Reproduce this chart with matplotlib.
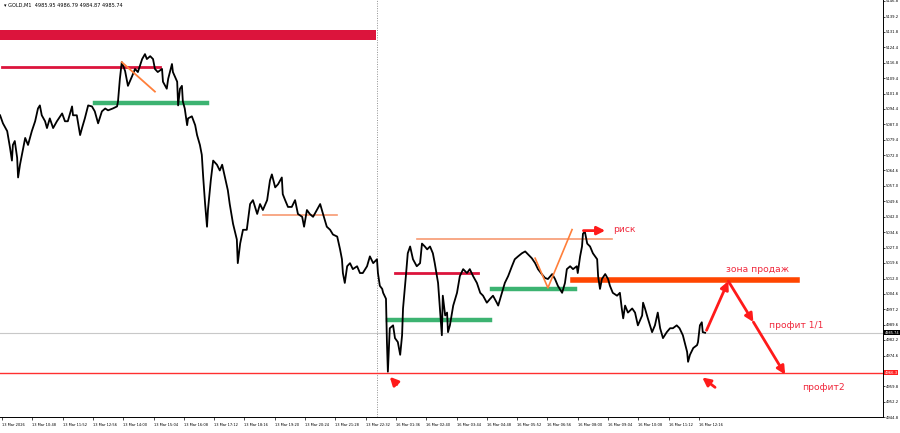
import matplotlib.pyplot as plt

# close prices (bar index = minutes from first bar)
bar_idx = [
    -4, 2, 11, 17, 21, 23, 27, 32, 34, 38, 42, 49, 55, 63, 70, 76, 80, 84, 91, 95,
    101, 108, 116, 127, 133, 139, 148, 150, 158, 165, 169, 175, 182, 190, 196, 203,
    211, 218, 224, 234, 243, 245, 249, 253, 260, 266, 275, 281, 287, 296, 302,
    306, 313, 319, 323, 329, 338, 340, 348, 351, 359, 361, 370, 372, 376, 380, 382,
    386, 391, 393, 401, 408, 412, 418, 422, 425, 429, 433, 435, 441, 446, 454, 460,
    465, 471, 477, 481, 488, 496, 498, 503, 509, 517, 524, 530, 539, 545, 551, 560,
    566, 570, 577, 583, 591, 593, 598, 604, 612, 619, 625, 634, 638, 644, 650, 657,
    665, 672, 678, 686, 693, 699, 708, 714, 718, 720, 724, 729, 735, 741, 750, 756,
    762, 771, 777, 784, 792, 794, 798, 803, 805, 811, 813, 815, 819, 826, 830, 836,
    841, 845, 847, 853, 857, 862, 868, 876, 883, 887, 893,
    898, 904, 910, 914, 921, 925, 929, 931, 936, 940, 942, 946, 953, 961, 967, 974,
    982, 988, 995, 1003, 1010, 1016, 1024, 1031, 1037, 1045, 1048, 1056, 1062, 1069,
    1077, 1083, 1090, 1098, 1105, 1111, 1119, 1126, 1132, 1140, 1147, 1153, 1162,
    1168, 1174, 1183, 1189, 1193, 1200, 1206, 1214, 1216, 1221, 1225, 1227, 1231,
    1236, 1242, 1248, 1257, 1259, 1263, 1267, 1274, 1280, 1284, 1290, 1299, 1305,
    1309, 1312, 1316, 1322, 1331, 1337, 1343, 1352, 1354, 1358, 1364, 1373, 1379,
    1385, 1390, 1396, 1404, 1411, 1417, 1425, 1431, 1438, 1447, 1449, 1453, 1460,
    1468, 1470, 1474, 1478, 1480, 1485,
]
price = [
    5091.3, 5087.4, 5083.6, 5075.5, 5069.3, 5076.9, 5078.8, 5070.7, 5061.1, 5067.3,
    5072.1, 5080.3, 5076.9, 5083.6, 5088.4, 5094.6, 5096.1, 5091.3, 5088.4, 5085.1,
    5089.8, 5085.1, 5088.4, 5092.2, 5088.4, 5088.4, 5095.6, 5091.3, 5091.3, 5081.7,
    5085.1, 5089.8, 5096.1, 5095.6, 5093.2, 5087.4, 5093.2, 5094.6, 5093.7, 5094.6,
    5095.6, 5098.0, 5109.0, 5117.1, 5112.8, 5105.6, 5110.4, 5113.8, 5112.3, 5118.6,
    5121.0,
    5118.6, 5120.0, 5118.6, 5113.8, 5112.3, 5113.8, 5107.6, 5104.2, 5109.0, 5116.2,
    5112.3, 5107.6, 5096.1, 5104.2, 5105.6, 5098.0, 5094.6, 5086.5, 5089.8, 5090.8,
    5086.5, 5081.7, 5076.9, 5072.1, 5061.1, 5048.2, 5037.2, 5045.3, 5059.7, 5069.3,
    5067.3, 5064.5, 5067.3, 5061.1, 5054.9, 5048.2, 5038.6, 5031.0, 5019.5, 5029.0,
    5035.7, 5035.7, 5048.2, 5050.1, 5043.4, 5048.2, 5045.3, 5050.1, 5059.7, 5062.6,
    5056.3, 5057.8, 5061.1, 5053.0, 5050.1, 5046.8, 5046.8, 5050.1, 5043.4, 5042.0,
    5037.2, 5045.3, 5043.4, 5042.0, 5045.3, 5048.2, 5043.4, 5037.2, 5035.7, 5033.4,
    5032.4, 5026.2, 5021.4, 5014.7, 5009.9, 5018.0, 5019.5, 5016.6, 5018.0, 5014.7,
    5014.7, 5018.0, 5022.8, 5019.5, 5021.4, 5014.7, 5008.5, 5007.0, 5005.1, 5002.2,
    4981.2, 4966.8, 4987.9, 4989.3, 4983.1, 4981.2, 4975.0, 4984.5, 4997.5, 5013.2,
    5024.3, 5027.6, 5021.4, 5018.0, 5019.5, 5029.0, 5027.6,
    5026.2, 5027.6, 5024.3, 5019.5, 5009.9, 4997.5, 4984.5, 5003.7, 4994.1, 4995.5,
    4986.0, 4989.3, 4998.9, 5005.1, 5013.2, 5016.6, 5014.7, 5016.6, 5013.2, 5009.9,
    5005.1, 5003.7, 5000.3, 5002.2, 5003.7, 5000.3, 4998.9, 5005.1, 5009.9, 5013.2,
    5018.0, 5021.4, 5022.8, 5024.3, 5025.2, 5023.8, 5021.9, 5019.5, 5016.6, 5014.2,
    5012.3, 5011.8, 5014.2, 5011.8, 5008.5, 5005.1, 5009.9, 5016.6, 5018.0, 5016.6,
    5018.0, 5014.7, 5022.8, 5027.6, 5033.8, 5034.8, 5029.0, 5027.6, 5024.3, 5021.4,
    5013.2, 5007.0, 5011.8, 5014.2, 5011.8, 5008.5, 5005.1, 5003.7, 5005.1, 4997.5,
    4992.7, 4998.9, 4995.5, 4997.5, 4995.5, 4989.3, 4994.1, 5000.3, 4997.5, 4992.7,
    4986.0, 4989.3, 4995.5, 4987.9, 4983.1, 4986.0, 4987.9, 4987.9, 4989.3, 4987.9,
    4984.5, 4976.4, 4971.6, 4975.0, 4978.3, 4979.7, 4981.2, 4989.3, 4990.8, 4986.0,
    4985.7,
]

time_labels = [
    '13 Mar 2026', '13 Mar 10:48', '13 Mar 11:52', '13 Mar 12:56', '13 Mar 14:00',
    '13 Mar 15:04', '13 Mar 16:08', '13 Mar 17:12', '13 Mar 18:16', '13 Mar 19:20',
    '13 Mar 20:24', '13 Mar 21:28', '13 Mar 22:32', '16 Mar 01:36', '16 Mar 02:40',
    '16 Mar 03:44', '16 Mar 04:48', '16 Mar 05:52', '16 Mar 06:56', '16 Mar 08:00',
    '16 Mar 09:04', '16 Mar 10:08', '16 Mar 11:12', '16 Mar 12:16',
]
price_ticks = [
    5146.8, 5139.2, 5131.8, 5124.4, 5116.8, 5109.4, 5101.8, 5094.4, 5087.0, 5079.4,
    5072.0, 5064.6, 5057.0, 5049.6, 5042.0, 5034.6, 5027.0, 5019.6, 5012.0, 5004.6,
    4997.2, 4989.6, 4982.2, 4974.6, 4959.8, 4952.2, 4944.8,
]

last_price = 4985.74
support = 4966.3
session_break = 792

# drawn levels: (start bar, end bar, price)
crimson_levels = [(0, 334, 5114.7), (830, 1005, 5014.7)]
green_levels = [(196, 433, 5097.5), (815, 1031, 4991.7), (1035, 1210, 5007.0)]
orange_levels = [(551, 708, 5042.9), (876, 1288, 5031.0)]
top_zone = (-4, 790, 5127.7, 5132.9)
sell_zone = (1206, 1679, 5011.1)
orange_diag_x = [253, 323]
orange_diag_y = [5117.1, 5102.8]
orange_v_x = [1126, 1153, 1204]
orange_v_y = [5021.9, 5007.5, 5035.8]

# forecast path: start, sell zone, profit 1/1, profit 2
path_x = [1488, 1534, 1587, 1654]
path_y = [4986.9, 5010.8, 4990.9, 4965.4]
risk_arrow = ((1228, 5035.3), (1274, 5035.3))
small_arrows = [((834, 4960.6), (819, 4964.3)), ((1506, 4959.2), (1479, 4964.0))]

fig = plt.figure(figsize=(9, 4.33), dpi=100)
ax = fig.add_axes([0, 16 / 433, 883 / 900, 417 / 433])

ax.plot(bar_idx, price, color='black', lw=1.3, zorder=5)

ax.fill_between([top_zone[0], top_zone[1]], top_zone[2], top_zone[3],
                color='#dc143c', lw=0, zorder=3)
for x0, x1, y in crimson_levels:
    ax.plot([x0, x1], [y, y], color='#dc143c', lw=2, zorder=3)
for x0, x1, y in green_levels:
    ax.plot([x0, x1], [y, y], color='#3cb371', lw=3.2, zorder=3)
for x0, x1, y in orange_levels:
    ax.plot([x0, x1], [y, y], color='#f79a72', lw=1.2, zorder=3)
ax.plot(orange_diag_x, orange_diag_y, color='#ff7f3a', lw=1.3, zorder=6)
ax.plot(orange_v_x, orange_v_y, color='#ff7f3a', lw=1.2, zorder=6)
ax.plot([sell_zone[0], sell_zone[1]], [sell_zone[2], sell_zone[2]],
        color='#ff4500', lw=4, zorder=3)

ax.axhline(last_price, color='#c8c8c8', lw=0.8, zorder=1)
ax.axhline(support, color='#ff3030', lw=1, zorder=2)
ax.axvline(session_break, color='#909090', lw=0.7, ls=(0, (1, 1.5)), zorder=1)

arrow = dict(arrowstyle='-|>', color='#ff1a1a', lw=2, mutation_scale=12,
             shrinkA=0, shrinkB=0)
for i in range(len(path_x) - 1):
    ax.annotate('', xy=(path_x[i + 1], path_y[i + 1]), xytext=(path_x[i], path_y[i]),
                arrowprops=arrow, zorder=7)
ax.annotate('', xy=risk_arrow[1], xytext=risk_arrow[0], arrowprops=arrow, zorder=7)
for tail, head in small_arrows:
    ax.annotate('', xy=head, xytext=tail, arrowprops=arrow, zorder=7)

txt = dict(color='#f0283c', fontsize=6.6, va='center', zorder=8)
ax.text(1290, 5035.7, 'риск', ha='left', **txt)
ax.text(1595, 5016.6, 'зона продаж', ha='center', **txt)
ax.text(1620, 4989.3, 'профит 1/1', ha='left', **txt)
ax.text(1690, 4959.2, 'профит2', ha='left', **txt)

ax.set_xlim(-4.2, 1860.7)
ax.set_ylim(4947.66, 5147.28)

ax.set_xticks([64 * i for i in range(len(time_labels))])
ax.set_xticklabels(time_labels, ha='left')
ax.yaxis.tick_right()
ax.set_yticks(price_ticks)
ax.tick_params(axis='x', labelsize=2.6, length=2, width=0.5, pad=2.5)
ax.tick_params(axis='y', labelsize=2.7, length=1.5, width=0.5, pad=0.6)
for side in ['top', 'left']:
    ax.spines[side].set_visible(False)
for side in ['right', 'bottom']:
    ax.spines[side].set_linewidth(0.7)

ytr = ax.get_yaxis_transform()
ax.text(1.002, last_price, f'{last_price:.2f}', transform=ytr, fontsize=2.5,
        color='white', va='center', ha='left', clip_on=False, zorder=9,
        bbox=dict(boxstyle='square,pad=0.15', fc='black', ec='none'))
ax.text(1.002, support, f'{support:.1f}', transform=ytr, fontsize=2.7,
        color='white', va='center', ha='left', clip_on=False, zorder=9,
        bbox=dict(boxstyle='square,pad=0.15', fc='#ff2020', ec='none'))

fig.text(0.004, 0.994, '\u25be GOLD,M1  4985.95 4986.79 4984.87 4985.74',
         fontsize=3.6, va='top', ha='left')

fig.savefig('out.png', dpi=100)
